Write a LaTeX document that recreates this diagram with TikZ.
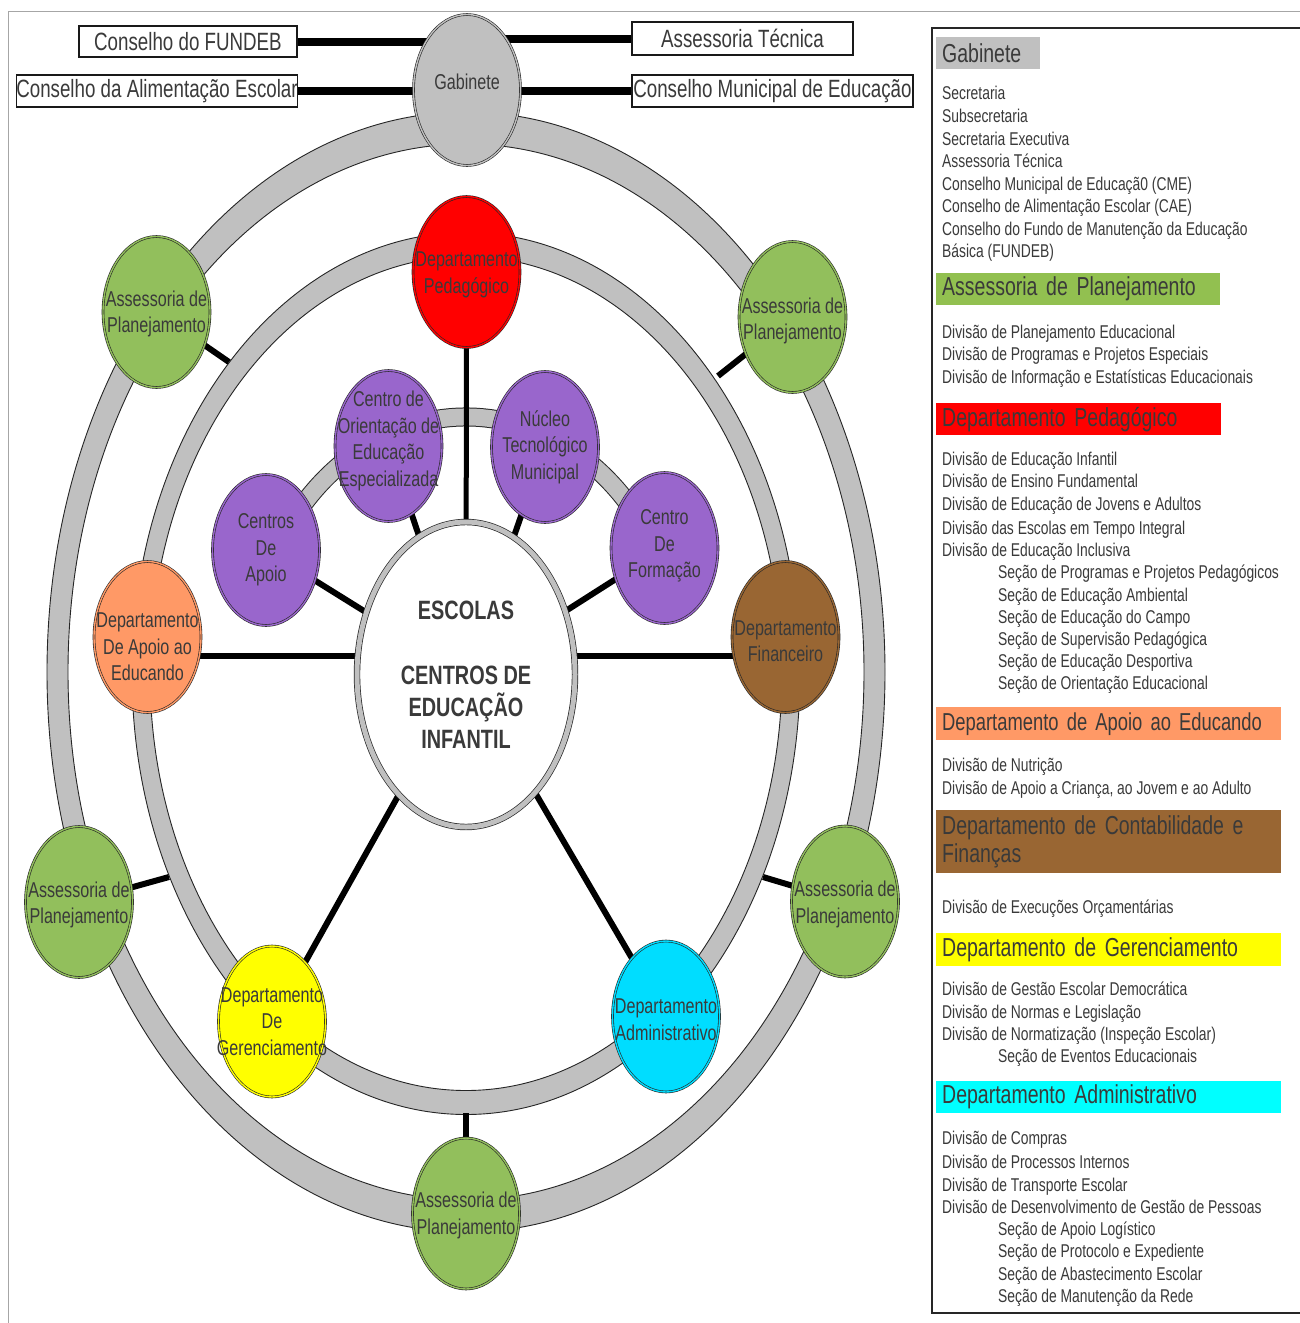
\documentclass[tikz,border=0pt]{standalone}
\usepackage{fontspec}
\setmainfont{Liberation Sans}[FakeStretch=0.75]
\usetikzlibrary{shapes.geometric}
\definecolor{ringgray}{HTML}{C0C0C0}
\definecolor{txt}{HTML}{3A3A3A}
\definecolor{cgreen}{HTML}{92BF5C}
\definecolor{hgreen}{HTML}{92C050}
\definecolor{cred}{HTML}{FF0000}
\definecolor{cpurple}{HTML}{9966CC}
\definecolor{corange}{HTML}{FF9966}
\definecolor{cbrown}{HTML}{996633}
\definecolor{cyellow}{HTML}{FFFF00}
\definecolor{ccyan}{HTML}{00DDFF}
\definecolor{hcyan}{HTML}{00FFFF}
\definecolor{framegray}{HTML}{A6A6A6}
\pgfdeclarelayer{rings}
\pgfdeclarelayer{links}
\pgfsetlayers{rings,links,main}
\tikzset{
  unit/.style={ellipse, draw=black!85, line width=0.6pt, double distance=1.4pt,
    minimum width=107pt, minimum height=151pt, inner sep=0pt},
  lbl/.style={align=center, text=txt, inner sep=0pt, font=\fontsize{21.5}{26.5}\selectfont},
  asst/.style={unit, fill=cgreen, double=cgreen},
  purp/.style={unit, fill=cpurple, double=cpurple},
  box/.style={draw=black!90, line width=1.4pt, inner sep=0pt, text=txt, font=\fontsize{25}{30}\selectfont},
  link/.style={line width=6pt, black},
  glink/.style={line width=8pt, black},
  item/.style={anchor=base west, inner sep=0pt, text=txt, font=\fontsize{18.5}{22}\selectfont},
  hdr/.style={anchor=north west, inner xsep=6pt, inner ysep=0pt, text=txt, align=left,
    font=\fontsize{26}{28}\selectfont},
  ringedge/.style={draw=black!85, line width=0.9pt}
}
\begin{document}
\begin{tikzpicture}[x=1pt,y=-1pt]
\useasboundingbox (0,0) rectangle (1300,1323);

% rings
\begin{pgfonlayer}{rings}
\fill[white] (0,0) rectangle (1300,1323);
\fill[ringgray, even odd rule] (466,672) ellipse[x radius=419, y radius=560]
                               (466,672) ellipse[x radius=398, y radius=528];
\draw[ringedge] (466,672) ellipse[x radius=419, y radius=560];
\draw[ringedge] (466,672) ellipse[x radius=398, y radius=528];
\fill[ringgray, even odd rule] (466,673.5) ellipse[x radius=334, y radius=441]
                               (466,673.5) ellipse[x radius=316, y radius=417];
\draw[ringedge] (466,673.5) ellipse[x radius=334, y radius=441];
\draw[ringedge] (466,673.5) ellipse[x radius=316, y radius=417];
\draw[black!85, line width=19pt] (263,584.8) arc[start angle=-160, end angle=-20, x radius=216, y radius=255];
\draw[ringgray, line width=17pt] (263,584.8) arc[start angle=-160, end angle=-20, x radius=216, y radius=255];
\end{pgfonlayer}

% frame
\draw[framegray, line width=1pt] (8,1323) -- (8,11) -- (1300,11);

% nodes of the diagram
\node[unit, fill=ringgray, double=ringgray, label={[lbl, yshift=8pt]center:Gabinete}] (gab) at (467,90) {};
\node[unit, fill=cred, double=cred, label={[lbl, yshift=-3pt]center:Departamento\\Pedagógico}] (ped) at (466.5,272) {};
\node[asst, label={[lbl, yshift=-2pt]center:Assessoria de\\Planejamento}] (asTL) at (156.5,312) {};
\node[asst, label={[lbl, yshift=-4pt]center:Assessoria de\\Planejamento}] (asTR) at (792.5,317) {};
\node[purp, label={[lbl, yshift=5pt]center:Centro de\\Orientação de\\Educação\\Especializada}] (ori) at (388.5,446) {};
\node[purp, label={[lbl]center:Núcleo\\Tecnológico\\Municipal}] (nuc) at (545,447) {};
\node[purp, label={[lbl]center:Centros\\De\\Apoio}] (cap) at (266,550) {};
\node[purp, label={[lbl, yshift=2pt]center:Centro\\De\\Formação}] (cfo) at (664.5,548) {};
\node[unit, fill=corange, double=corange, label={[lbl, yshift=-10pt]center:Departamento\\De Apoio ao\\Educando}] (dap) at (147.5,637) {};
\node[unit, fill=cbrown, double=cbrown, label={[lbl, yshift=-4pt]center:Departamento\\Financeiro}] (dfi) at (785.5,637) {};
\node[ellipse, fill=white, draw=black!85, line width=0.7pt, double=ringgray, double distance=5pt,
      minimum width=218pt, minimum height=305pt, inner sep=0pt,
      label={[align=center, text=txt, inner sep=0pt, font=\fontsize{26.5}{32}\selectfont\bfseries]center:ESCOLAS\\[33pt]CENTROS DE\\EDUCAÇÃO\\INFANTIL}] (esc) at (466,674.5) {};
\node[asst, label={[lbl, yshift=-3pt]center:Assessoria de\\Planejamento}] (asLM) at (79,902) {};
\node[asst, label={[lbl, yshift=-3pt]center:Assessoria de\\Planejamento}] (asRM) at (845,901.5) {};
\node[unit, fill=cyellow, double=cyellow, label={[lbl]center:Departamento\\De\\Gerenciamento}] (ger) at (272,1021.5) {};
\node[unit, fill=ccyan, double=ccyan, label={[lbl, yshift=-3pt]center:Departamento\\Administrativo}] (adm) at (666,1016.5) {};
\node[asst, label={[lbl, yshift=-2pt]center:Assessoria de\\Planejamento}] (asB) at (466,1213.5) {};

% boxes
\node[box, minimum width=218pt, minimum height=31pt] (fundeb) at (188,41.5) {Conselho do FUNDEB};
\node[box, minimum width=280pt, minimum height=32pt] (alim) at (157,91) {Conselho da Alimentação Escolar};
\node[box, minimum width=221pt, minimum height=33pt] (atec) at (742.5,38.5) {Assessoria Técnica};
\node[box, minimum width=281pt, minimum height=32pt] (cme) at (772.5,91) {Conselho Municipal de Educação};

% ring anchor points
\coordinate (rTL) at (229,362);
\coordinate (rTR) at (718,376);
\coordinate (rLM) at (169,877);
\coordinate (rRM) at (763,877);
\coordinate (rB) at (466,1113);
\coordinate (h656) at (0,656);

% connectors
\begin{pgfonlayer}{links}
\draw[glink] (fundeb.east) -- (fundeb.east -| gab.center);
\draw[glink] (alim.east) -- (alim.east -| gab.center);
\draw[glink] (atec.west) -- (atec.west -| gab.center);
\draw[glink] (cme.west) -- (cme.west -| gab.center);
\draw[line width=5pt] (ped) -- (esc);
\draw[link] (ori) -- (esc);
\draw[link] (nuc) -- (esc);
\draw[link] (cap) -- (esc);
\draw[link] (cfo) -- (esc);
\draw[link] (dap.center |- h656) -- (esc.center |- h656);
\draw[link] (dfi.center |- h656) -- (esc.center |- h656);
\draw[link] (ger) -- (esc);
\draw[link] (adm) -- (esc);
\draw[link] (asTL) -- (rTL);
\draw[link] (asTR) -- (rTR);
\draw[link] (asLM) -- (rLM);
\draw[link] (asRM) -- (rRM);
\draw[link] (asB) -- (rB);
\end{pgfonlayer}

% right panel
\draw[black!85, line width=1.5pt] (932,28) rectangle (1312,1313);

\node[hdr, fill=ringgray, minimum height=32pt, text width=92pt] (hGab) at (936,37) {\mbox{Gabinete}};
\node[item] (g1) at (942,99) {Secretaria};
\node[item] (g2) at (942,122) {Subsecretaria};
\node[item] (g3) at (942,145) {Secretaria Executiva};
\node[item] (g4) at (942,167) {Assessoria Técnica};
\node[item] (g5) at (942,190) {Conselho Municipal de Educaçã0 (CME)};
\node[item] (g6) at (942,212) {Conselho de Alimentação Escolar (CAE)};
\node[item] (g7) at (942,235) {Conselho do Fundo de Manutenção da Educação};
\node[item] (g8) at (942,257) {Básica (FUNDEB)};

\node[hdr, fill=hgreen, minimum height=32pt, text width=272pt] (hAss) at (936,273) {\mbox{Assessoria de Planejamento}};
\node[item] (a1) at (942,338) {Divisão de Planejamento Educacional};
\node[item] (a2) at (942,360) {Divisão de Programas e Projetos Especiais};
\node[item] (a3) at (942,383) {Divisão de Informação e Estatísticas Educacionais};

\node[hdr, fill=cred, minimum height=32pt, text width=273pt] (hPed) at (936,403) {\mbox{Departamento Pedagógico}};
\node[item] (p1) at (942,465) {Divisão de Educação Infantil};
\node[item] (p2) at (942,487) {Divisão de Ensino Fundamental};
\node[item] (p3) at (942,510) {Divisão de Educação de Jovens e Adultos};
\node[item] (p4) at (942,534) {Divisão das Escolas em Tempo Integral};
\node[item] (p5) at (942,556) {Divisão de Educação Inclusiva};
\node[item] (p6) at (998,578) {Seção de Programas e Projetos Pedagógicos};
\node[item] (p7) at (998,601) {Seção de Educação Ambiental};
\node[item] (p8) at (998,623) {Seção de Educação do Campo};
\node[item] (p9) at (998,645) {Seção de Supervisão Pedagógica};
\node[item] (p10) at (998,667) {Seção de Educação Desportiva};
\node[item] (p11) at (998,689) {Seção de Orientação Educacional};

\node[hdr, fill=corange, minimum height=33pt, text width=333pt, font=\fontsize{24.5}{28}\selectfont] (hApo) at (936,707) {\mbox{Departamento de Apoio ao Educando}};
\node[item] (e1) at (942,771) {Divisão de Nutrição};
\node[item] (e2) at (942,794) {Divisão de Apoio a Criança, ao Jovem e ao Adulto};

\node[hdr, fill=cbrown, minimum height=63pt, text width=333pt] (hFin) at (936,810) {\mbox{Departamento de Contabilidade e}\\Finanças};
\node[item] (f1) at (942,913) {Divisão de Execuções Orçamentárias};

\node[hdr, fill=cyellow, minimum height=33pt, text width=333pt] (hGer) at (936,933) {\mbox{Departamento de Gerenciamento}};
\node[item] (r1) at (942,995) {Divisão de Gestão Escolar Democrática};
\node[item] (r2) at (942,1018) {Divisão de Normas e Legislação};
\node[item] (r3) at (942,1040) {Divisão de Normatização (Inspeção Escolar)};
\node[item] (r4) at (998,1062) {Seção de Eventos Educacionais};

\node[hdr, fill=hcyan, minimum height=32pt, text width=333pt] (hAdm) at (936,1081) {\mbox{Departamento Administrativo}};
\node[item] (d1) at (942,1144) {Divisão de Compras};
\node[item] (d2) at (942,1168) {Divisão de Processos Internos};
\node[item] (d3) at (942,1191) {Divisão de Transporte Escolar};
\node[item] (d4) at (942,1213) {Divisão de Desenvolvimento de Gestão de Pessoas};
\node[item] (d5) at (998,1235) {Seção de Apoio Logístico};
\node[item] (d6) at (998,1257) {Seção de Protocolo e Expediente};
\node[item] (d7) at (998,1280) {Seção de Abastecimento Escolar};
\node[item] (d8) at (998,1302) {Seção de Manutenção da Rede};
\end{tikzpicture}
\end{document}
